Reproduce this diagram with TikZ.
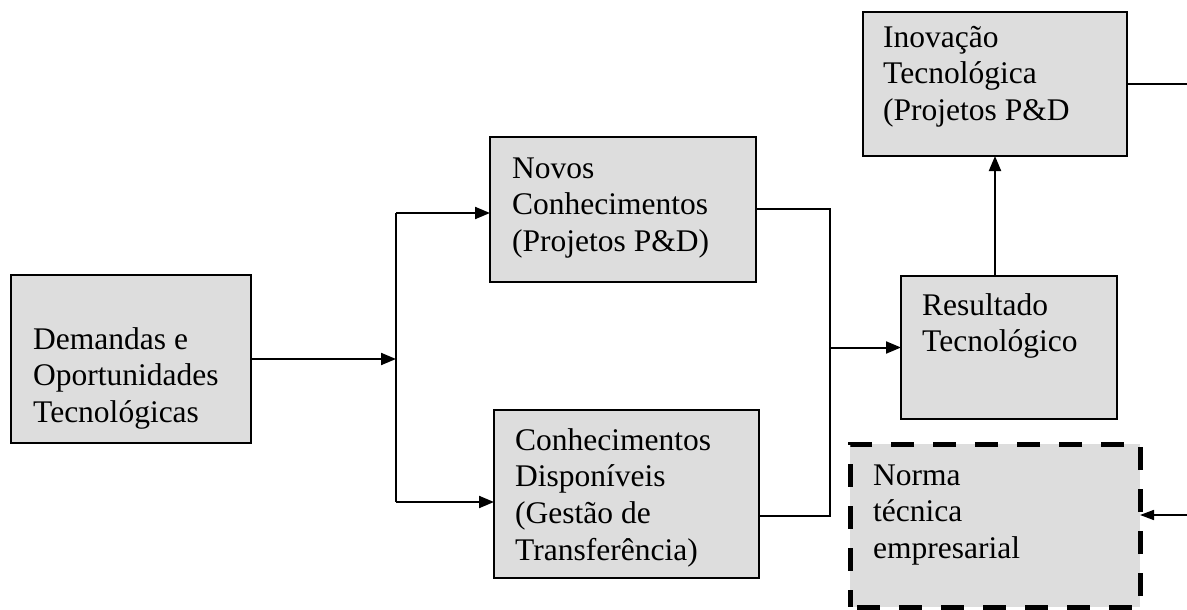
\documentclass[tikz,border=0pt]{standalone}
\usepackage{fontspec}
\setmainfont{Liberation Serif}
\usetikzlibrary{arrows.meta}
\definecolor{boxgray}{HTML}{DDDDDD}
\begin{document}
\begin{tikzpicture}[x=1pt,y=-1pt,
  box/.style={draw, line width=2.5pt, fill=boxgray, inner sep=0pt, outer sep=0pt},
  dbox/.style={draw, line width=5pt, dash pattern=on 23pt off 19pt, dash phase=-7pt, fill=boxgray, inner sep=0pt, outer sep=0pt},
  txt/.style={anchor=north west, align=left, inner sep=0pt, font=\fontsize{31.5}{36.8}\selectfont},
  conn/.style={line width=2pt},
  arr/.style={conn, -{Triangle[length=15pt,width=12pt]}},
  sarr/.style={line width=1.6pt, -{Triangle[length=14pt,width=10pt]}}]
\useasboundingbox (0,0) rectangle (1187,610);
% boxes
\node[box, minimum width=240pt, minimum height=168pt] (dem) at (131,359) {};
\node[box, minimum width=266pt, minimum height=145pt] (novos) at (623,209.5) {};
\node[box, minimum width=265pt, minimum height=168pt] (disp) at (626.5,494) {};
\node[box, minimum width=216pt, minimum height=143pt] (res) at (1009,347.5) {};
\node[box, minimum width=264pt, minimum height=144pt] (inov) at (995,84) {};
\node[dbox, minimum width=290pt, minimum height=163pt] (norma) at (995,525.5) {};
% texts
\node[txt] (tdem) at (33,323.2) {\strut Demandas e\\Oportunidades\\Tecnológicas};
\node[txt] (tnovos) at (512,152.2) {\strut Novos\\Conhecimentos\\(Projetos P\&D)};
\node[txt] (tdisp) at (515,424.2) {\strut Conhecimentos\\Disponíveis\\(Gestão de\\Transferência)};
\node[txt] (tres) at (922,289.2) {\strut Resultado\\Tecnológico};
\node[txt] (tinov) at (883,21.2) {\strut Inovação\\Tecnológica\\(Projetos P\&D};
\node[txt] (tnorma) at (873,459.2) {\strut Norma\\técnica\\empresarial};
% junction coordinates
\coordinate (jtop) at (396,213);
\coordinate (jbot) at (396,502);
\coordinate (mtop) at (830,209);
\coordinate (mbot) at (830,516);
\coordinate (rx) at (995,0);
\coordinate (eout) at (1187,84);
\coordinate (ein) at (1187,515);
% connectors
\draw[arr] (dem.east) -- (dem.east -| jtop);
\draw[conn] (jtop) -- (jbot);
\draw[arr] (jtop) -- (jtop -| novos.west);
\draw[arr] (jbot) -- (jbot -| disp.west);
\draw[conn] (novos.east |- mtop) -- (mtop) -- (mbot) -- (mbot -| disp.east);
\draw[arr] (res.west -| mtop) -- (res.west);
\draw[arr] (rx |- res.north) -- (rx |- inov.south);
\draw[conn] (inov.east) -- (eout);
\draw[sarr] (ein) -- (ein -| norma.east);
\end{tikzpicture}
\end{document}
